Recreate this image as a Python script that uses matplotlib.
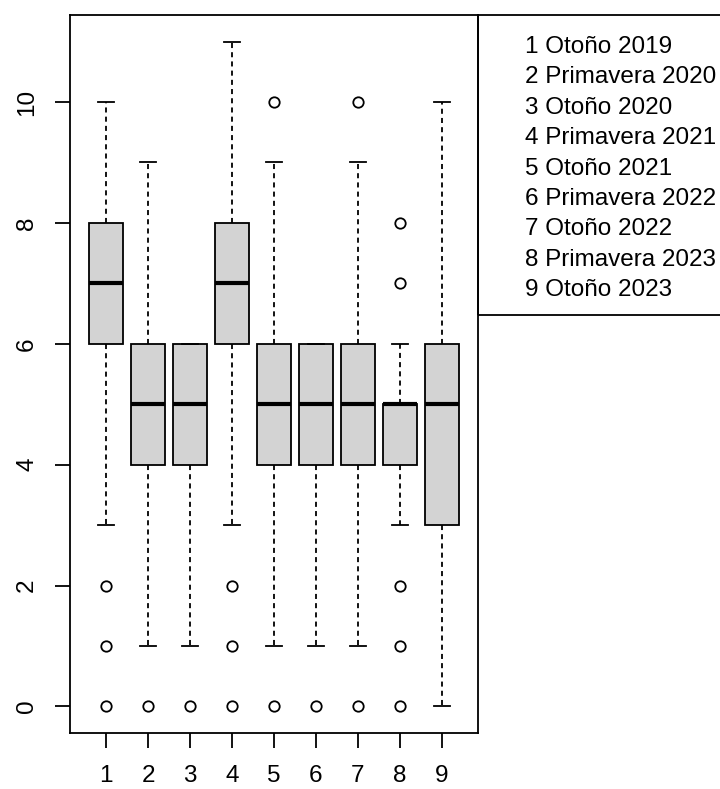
import matplotlib.pyplot as plt
from matplotlib.patches import Rectangle

plt.rcParams['font.family'] = ['Liberation Sans', 'DejaVu Sans']

# Box statistics
labels = ['Otoño 2019', 'Primavera 2020', 'Otoño 2020', 'Primavera 2021',
          'Otoño 2021', 'Primavera 2022', 'Otoño 2022', 'Primavera 2023',
          'Otoño 2023']
whislo = [3, 1, 1, 3, 1, 1, 1, 3, 0]
q1 = [6, 4, 4, 6, 4, 4, 4, 4, 3]
med = [7, 5, 5, 7, 5, 5, 5, 5, 5]
q3 = [8, 6, 6, 8, 6, 6, 6, 5, 6]
whishi = [10, 9, 6, 11, 9, 6, 9, 6, 10]
fliers = [[2, 1, 0], [0], [0], [2, 1, 0], [10, 0], [0], [10, 0],
          [8, 7, 2, 1, 0], []]

stats = []
for i in range(len(labels)):
    stats.append(dict(whislo=whislo[i], q1=q1[i], med=med[i], q3=q3[i],
                      whishi=whishi[i], fliers=fliers[i]))

fig = plt.figure(figsize=(7.2, 7.89), dpi=100)
ax = fig.add_axes([70 / 720, 56 / 789, 408 / 720, 718 / 789])

lw = 1.3
ax.bxp(stats, positions=range(1, 10), widths=0.8, patch_artist=True,
       boxprops=dict(facecolor='#d3d3d3', edgecolor='black', linewidth=lw),
       medianprops=dict(color='black', linewidth=3, solid_capstyle='butt'),
       whiskerprops=dict(color='black', linewidth=lw, linestyle=(0, (2.8, 2.3))),
       capprops=dict(color='black', linewidth=lw),
       capwidths=0.4,
       flierprops=dict(marker='o', markerfacecolor='none',
                       markeredgecolor='black', markersize=7.5,
                       markeredgewidth=lw))

ax.set_xlim(0.14, 9.86)
ax.set_ylim(-0.44, 11.44)
ax.set_xticks(range(1, 10))
ax.set_xticklabels([str(i) for i in range(1, 10)])
ax.set_yticks(range(0, 11, 2))
ax.set_yticklabels([str(v) for v in range(0, 11, 2)], rotation=90, va='center')
ax.tick_params(axis='both', length=11, width=lw, labelsize=17.5, pad=12)
for s in ax.spines.values():
    s.set_linewidth(lw)

# legend box outside the plot on the right
leg = Rectangle((478 / 720, (789 - 315) / 789), 0.4, 300 / 789,
                transform=fig.transFigure, fill=False, edgecolor='black',
                linewidth=lw, clip_on=False)
fig.patches.append(leg)
for i, lab in enumerate(labels):
    y = 47 + i * 30.4
    fig.text(525 / 720, 1 - y / 789, f'{i + 1} {lab}', fontsize=17.5,
             va='center', ha='left')

fig.savefig('out.png', dpi=100)
